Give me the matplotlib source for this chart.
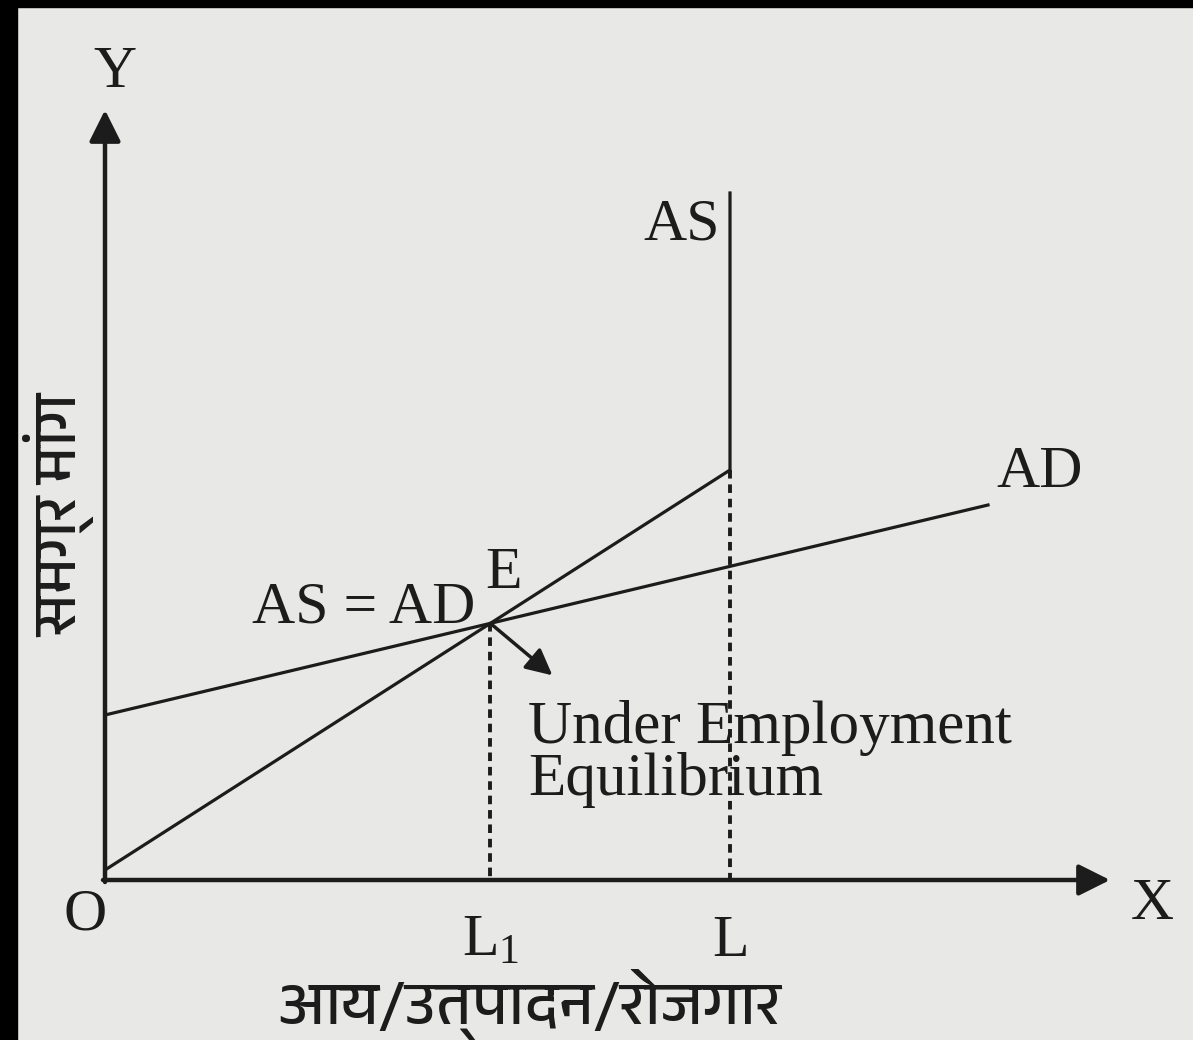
import matplotlib.pyplot as plt
from matplotlib.patches import Rectangle
from matplotlib import font_manager

# diagram units: origin at O, 1 unit ~ 1 pixel of the picture
as_x = [0, 625, 625]          # aggregate supply: rising, then vertical at full employment
as_y = [10, 410, 687]
ad_x = [0, 883]               # aggregate demand
ad_y = [165, 375]
y_axis_top = 770
x_axis_end = 1005

# equilibrium E where the rising part of AS meets AD
as_slope = (as_y[1] - as_y[0]) / (as_x[1] - as_x[0])
ad_slope = (ad_y[1] - ad_y[0]) / (ad_x[1] - ad_x[0])
e_x = (ad_y[0] - as_y[0]) / (as_slope - ad_slope)
e_y = as_y[0] + as_slope * e_x

ink = '#1c1c1c'
paper = '#e8e8e6'
serif = ['Liberation Serif', 'DejaVu Serif']

# find something that can draw Devanagari, if the box has it
hindi = []
for f in font_manager.fontManager.ttflist:
    if 'Devanagari' in f.name or 'Lohit' in f.name or 'Mangal' in f.name:
        hindi.append(f.name)
hindi = sorted(set(hindi)) + ['Noto Sans', 'DejaVu Sans']

fig = plt.figure(figsize=(11.93, 10.40), dpi=100, facecolor=paper)
ax = fig.add_axes([0, 0, 1, 1])
ax.set_facecolor(paper)
ax.set_xlim(-105, 1088)
ax.set_ylim(-160, 880)
ax.axis('off')

# scanned page edges
fig.patches.append(Rectangle((0, 0), 17 / 1193, 1, transform=fig.transFigure, color='black', zorder=0))
fig.patches.append(Rectangle((0, 1 - 7 / 1040), 1, 7 / 1040, transform=fig.transFigure, color='black', zorder=0))

# axes with arrows
arr = dict(arrowstyle='-|>', mutation_scale=48, lw=3.2, color=ink, shrinkA=0, shrinkB=0)
ax.annotate('', xy=(0, y_axis_top), xytext=(0, -2), arrowprops=arr)
ax.annotate('', xy=(x_axis_end, 0), xytext=(-2, 0), arrowprops=arr)

# curves
ax.plot(as_x, as_y, color=ink, lw=2.3, solid_joinstyle='miter')
ax.plot(ad_x, ad_y, color=ink, lw=2.3)

# dotted drops to the x axis
ax.plot([e_x, e_x], [e_y, 0], color=ink, lw=2.8, linestyle=(0, (2.2, 1.5)))
ax.plot([as_x[1], as_x[1]], [as_y[1], 0], color=ink, lw=2.8, linestyle=(0, (2.2, 1.5)))

# small pointer from E
ax.annotate('', xy=(e_x + 62, e_y - 52), xytext=(e_x, e_y),
            arrowprops=dict(arrowstyle='-|>', mutation_scale=40, lw=2.5, color=ink,
                            shrinkA=0, shrinkB=0))

fs = 43
ax.text(10, 780, 'Y', fontsize=fs, family=serif, color=ink, ha='center', va='bottom')
ax.text(-20, -8, 'O', fontsize=fs, family=serif, color=ink, ha='center', va='top')
ax.text(1047, -25, 'X', fontsize=fs, family=serif, color=ink, ha='center', va='center')
ax.text(as_x[1] - 10, 655, 'AS', fontsize=fs, family=serif, color=ink, ha='right', va='center')
ax.text(ad_x[1] + 52, 407, 'AD', fontsize=fs, family=serif, color=ink, ha='center', va='center')
ax.text(e_x + 13, e_y + 22, 'E', fontsize=fs, family=serif, color=ink, ha='center', va='bottom')
ax.text(e_x - 15, e_y + 15, 'AS = AD', fontsize=fs, family=serif, color=ink, ha='right', va='center')
ax.text(e_x + 38, 152, 'Under Employment', fontsize=44, family=serif, color=ink, ha='left', va='center')
ax.text(e_x + 38, 100, 'Equilibrium', fontsize=44, family=serif, color=ink, ha='left', va='center')
ax.text(e_x, -35, '$\\mathregular{L_1}$', fontsize=fs, family=serif, color=ink, ha='center', va='top')
ax.text(as_x[1], -35, 'L', fontsize=fs, family=serif, color=ink, ha='center', va='top')

ax.text(425, -125, 'आय/उत्पादन/रोजगार', fontsize=44, family=hindi, color=ink,
        ha='center', va='center', fontweight='light')
ax.text(-45, 365, 'समग्र मांग', fontsize=44, family=hindi, color=ink,
        ha='center', va='center', rotation=90, fontweight='light')

fig.savefig('out.png', dpi=100, facecolor=paper)
